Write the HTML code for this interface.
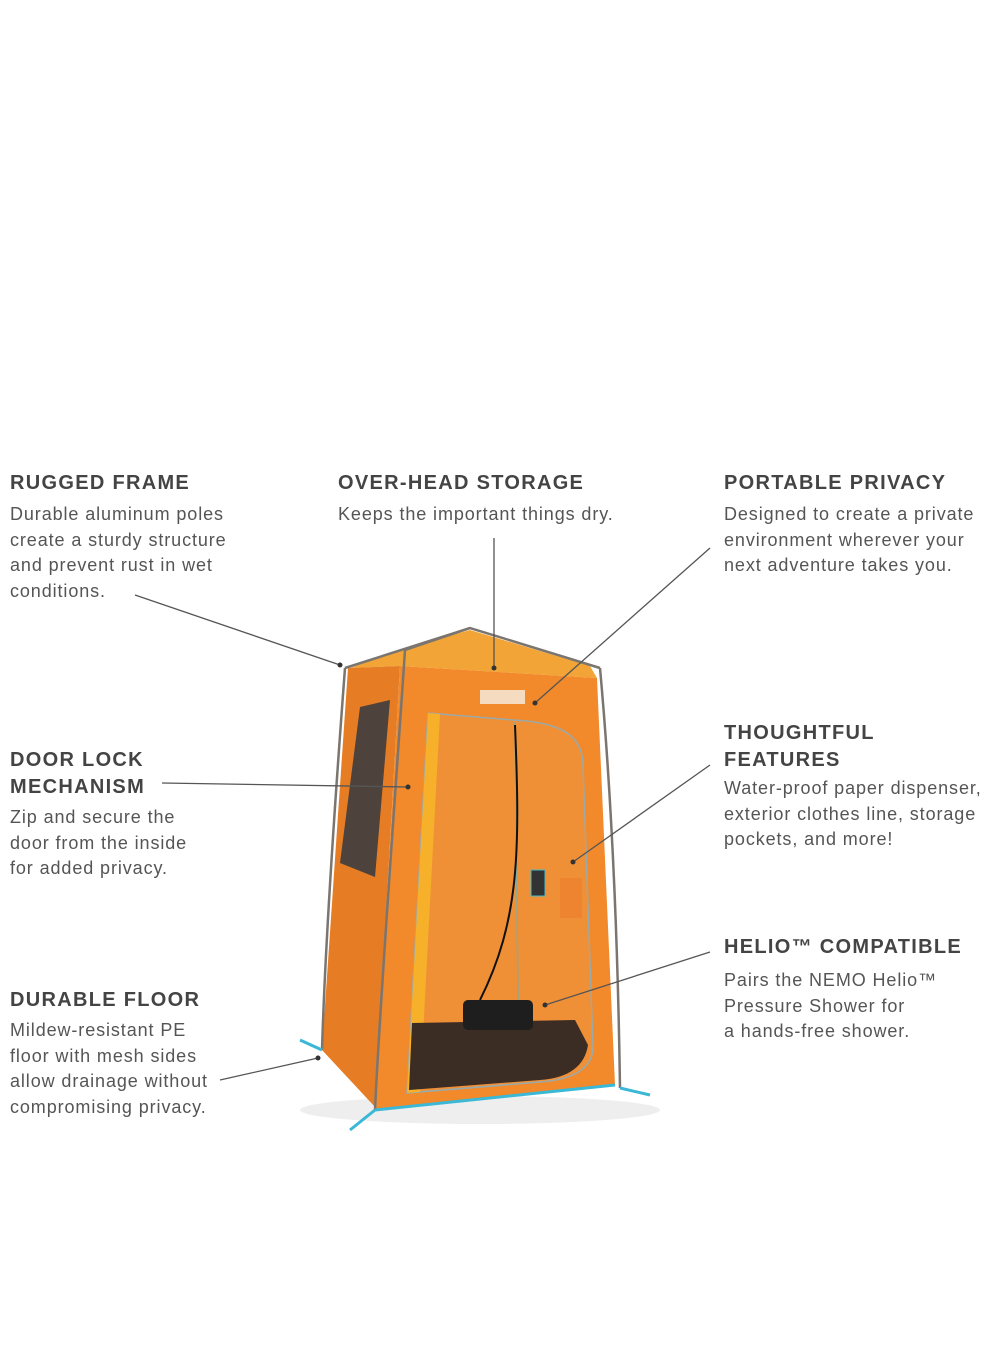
<!DOCTYPE html>
<html><head><style>
body{margin:0;width:1000px;height:1360px;background:#fff;position:relative;font-family:"Liberation Sans",sans-serif;color:#4a4a4a;overflow:hidden}
.h{position:absolute;font-weight:bold;font-size:20px;letter-spacing:1.3px;line-height:27px;color:#444}
.t{position:absolute;font-size:18px;line-height:25.7px;color:#555;letter-spacing:0.9px;white-space:nowrap}
svg{position:absolute;left:0;top:0}
</style></head><body>
<svg width="1000" height="1360">
<ellipse cx="480" cy="1110" rx="180" ry="14" fill="#eee"/>
<polygon points="350,668 405,648 470,630 590,666 597,678 400,666" fill="#f2a536"/>
<polygon points="348,668 400,666 375,1107 322,1050" fill="#e67d24"/>
<polygon points="400,666 597,678 615,1085 375,1110" fill="#f2892b"/>
<path d="M428,713 L513,720 C560,722 583,735 583,765 L593,1047 C593,1070 570,1080 540,1082 L407,1093 Z" fill="#f09036"/>
<path d="M513,720 C560,722 583,735 583,765 L593,1047 C593,1070 570,1080 540,1082 L407,1093 L428,713 Z" fill="none" stroke="#9aa" stroke-width="1.5"/>
<polygon points="428,713 440,714 420,1092 407,1093" fill="#f6b02a"/>
<path d="M412,1023 L575,1020 L588,1045 C585,1065 570,1078 540,1080 L409,1090 Z" fill="#3b2c24"/>
<rect x="463" y="1000" width="70" height="30" rx="5" fill="#1e1e1e"/>
<line x1="515" y1="722" x2="518" y2="1000" stroke="#8a9" stroke-width="1.5"/>
<path d="M515,725 C520,850 520,920 480,1000" fill="none" stroke="#111" stroke-width="2"/>
<polygon points="360,707 390,700 375,877 340,863" fill="#4e423c"/>
<rect x="531" y="870" width="14" height="26" fill="#333" stroke="#4bc" stroke-width="1"/>
<rect x="560" y="878" width="22" height="40" fill="#ee8430"/>
<rect x="480" y="690" width="45" height="14" fill="#f5dcc0"/>
<g stroke="#7b7570" stroke-width="2.5" fill="none">
<path d="M345,668 L470,628 L600,668"/>
<path d="M405,650 L470,628"/>
<path d="M345,668 C335,800 325,950 322,1050"/>
<path d="M405,650 C395,800 380,1000 375,1110"/>
<path d="M600,668 C612,800 618,950 620,1088"/>
</g>
<g stroke="#3ab8d6" stroke-width="3">
<line x1="322" y1="1050" x2="300" y2="1040"/><line x1="375" y1="1110" x2="350" y2="1130"/><line x1="620" y1="1088" x2="650" y2="1095"/>
<line x1="375" y1="1110" x2="615" y2="1085"/>
</g>
<g stroke="#555" stroke-width="1.3">
<line x1="135" y1="595" x2="340" y2="665"/>
<line x1="494" y1="538" x2="494" y2="668"/>
<line x1="710" y1="548" x2="535" y2="703"/>
<line x1="162" y1="783" x2="408" y2="787"/>
<line x1="710" y1="765" x2="573" y2="862"/>
<line x1="710" y1="952" x2="545" y2="1005"/>
<line x1="220" y1="1080" x2="318" y2="1058"/>
</g>
<g fill="#333"><circle cx="340" cy="665" r="2.5"/><circle cx="494" cy="668" r="2.5"/><circle cx="535" cy="703" r="2.5"/><circle cx="408" cy="787" r="2.5"/><circle cx="573" cy="862" r="2.5"/><circle cx="545" cy="1005" r="2.5"/><circle cx="318" cy="1058" r="2.5"/></g>
</svg>
<div class="h" style="left:10px;top:470px">RUGGED FRAME</div>
<div class="t" style="left:10px;top:502px">Durable aluminum poles<br>create a sturdy structure<br>and prevent rust in wet<br>conditions.</div>
<div class="h" style="left:338px;top:470px">OVER-HEAD STORAGE</div>
<div class="t" style="left:338px;top:502px">Keeps the important things dry.</div>
<div class="h" style="left:724px;top:470px">PORTABLE PRIVACY</div>
<div class="t" style="left:724px;top:502px">Designed to create a private<br>environment wherever your<br>next adventure takes you.</div>
<div class="h" style="left:10px;top:747px">DOOR LOCK<br>MECHANISM</div>
<div class="t" style="left:10px;top:805px">Zip and secure the<br>door from the inside<br>for added privacy.</div>
<div class="h" style="left:724px;top:720px">THOUGHTFUL<br>FEATURES</div>
<div class="t" style="left:724px;top:776px">Water-proof paper dispenser,<br>exterior clothes line, storage<br>pockets, and more!</div>
<div class="h" style="left:724px;top:934px">HELIO™ COMPATIBLE</div>
<div class="t" style="left:724px;top:968px">Pairs the NEMO Helio™<br>Pressure Shower for<br>a hands-free shower.</div>
<div class="h" style="left:10px;top:987px">DURABLE FLOOR</div>
<div class="t" style="left:10px;top:1018px">Mildew-resistant PE<br>floor with mesh sides<br>allow drainage without<br>compromising privacy.</div>
</body></html>
